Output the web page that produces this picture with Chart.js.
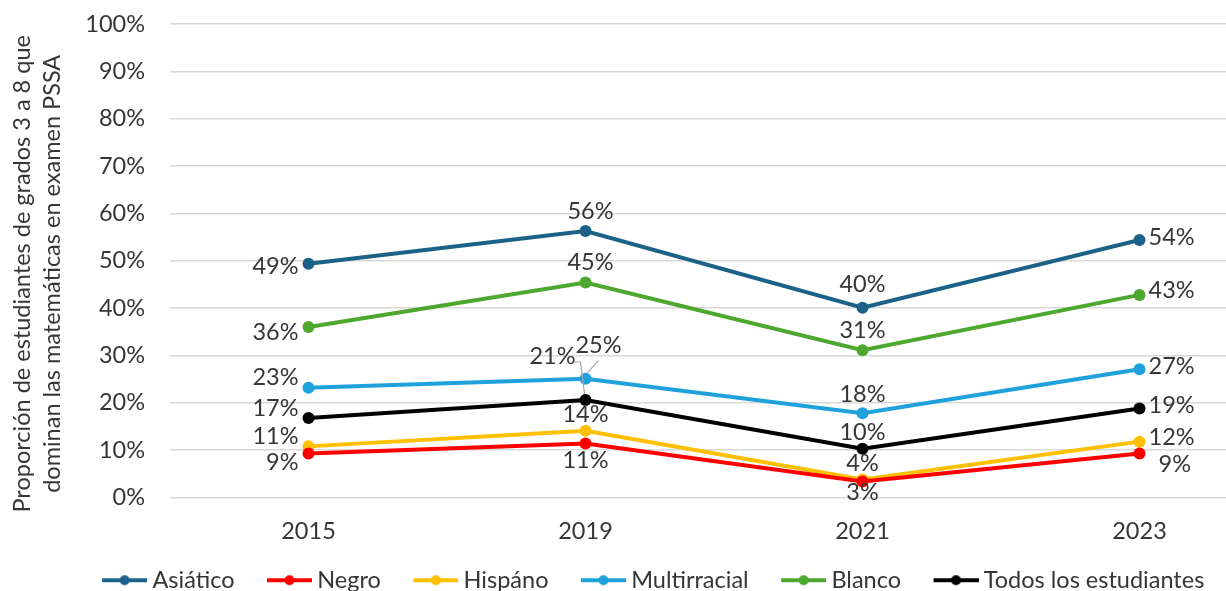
<!DOCTYPE html>
<html>
<head>
<meta charset="utf-8">
<script src="https://cdn.jsdelivr.net/npm/chart.js@4.4.0/dist/chart.umd.min.js"></script>
<style>
  html, body { margin: 0; padding: 0; background: #ffffff; overflow: hidden; width: 1226px; height: 591px; }
  #wrap { width: 1300px; height: 617px; margin-top: -15px; }
  canvas { display: block; }
</style>
</head>
<body>
<div id="wrap"><canvas id="c" width="1300" height="617"></canvas></div>
<script>
// ---- Data ----
const categories = ['2015', '2019', '2021', '2023'];
const seriesNames = ['Asiático', 'Negro', 'Hispáno', 'Multirracial', 'Blanco', 'Todos los estudiantes'];
const asiatico = [49.4, 56.3, 40.1, 54.4];
const negro = [9.3, 11.4, 3.4, 9.3];
const hispano = [10.8, 14.1, 3.8, 11.8];
const multirracial = [23.2, 25.1, 17.8, 27.1];
const blanco = [36.0, 45.4, 31.1, 42.8];
const todos = [16.8, 20.6, 10.3, 18.8];
const yTicks = [0, 10, 20, 30, 40, 50, 60, 70, 80, 90, 100];
const yTitle = ['Proporción de estudiantes de grados 3 a 8 que', 'dominan las matemáticas en examen PSSA'];

// ---- Styles ----
const colors = ['#1c6288', '#ff0000', '#ffc000', '#1fa2dc', '#4ea72e', '#000000'];
const FONT = 'Lato, "Open Sans", sans-serif';
const FS = 23.5;
const TEXT = '#363636';

// label placement per series per point: [mode, dx, dy]
const placement = [
  [['left', 0, 3], ['above', 5, 0], ['above', 0, -3], ['right', 0, -3]],
  [['left', 0, 9], ['below', 0, 0], ['below', 0, -6], ['right', 10, 11]],
  [['left', 0, -10], ['above', 0, 4], ['above', 0, 4], ['right', 0, -4]],
  [['left', 0, -10], ['lead', 13, -33], ['above', 0, 1], ['right', 0, -3]],
  [['left', 0, 5], ['above', 5, 0], ['above', 0, 0], ['right', 0, -4]],
  [['left', 0, -10], ['leadL', -33, -44], ['above', 0, 4], ['right', 0, -3]]
];

const seriesData = [asiatico, negro, hispano, multirracial, blanco, todos];

function legendImage(color) {
  const c = document.createElement('canvas');
  c.width = 80; c.height = 14;
  const g = c.getContext('2d');
  g.strokeStyle = color; g.lineWidth = 4; g.lineCap = 'butt';
  g.beginPath(); g.moveTo(35, 7); g.lineTo(80, 7); g.stroke();
  g.fillStyle = color;
  g.beginPath(); g.arc(57.5, 7, 5, 0, Math.PI * 2); g.fill();
  return c;
}
const legendImgs = colors.map(legendImage);

const labelPlugin = {
  id: 'pointLabels',
  afterDatasetsDraw(chart) {
    const ctx = chart.ctx;
    ctx.save();
    ctx.font = FS + 'px ' + FONT;
    ctx.fillStyle = TEXT;
    ctx.textBaseline = 'middle';
    chart.data.datasets.forEach((ds, di) => {
      const meta = chart.getDatasetMeta(di);
      meta.data.forEach((pt, i) => {
        const txt = Math.round(ds.data[i]) + '%';
        const [mode, dx, dy] = placement[di][i];
        let x = pt.x, y = pt.y;
        if (mode === 'left') { ctx.textAlign = 'right'; x = pt.x - 10 + dx; y = pt.y + dy; }
        else if (mode === 'right') { ctx.textAlign = 'left'; x = pt.x + 9 + dx; y = pt.y + dy; }
        else if (mode === 'above') { ctx.textAlign = 'center'; x = pt.x + dx; y = pt.y - 20 + dy; }
        else if (mode === 'below') { ctx.textAlign = 'center'; x = pt.x + dx; y = pt.y + 17 + dy; }
        else if (mode === 'lead') {
          ctx.textAlign = 'center'; x = pt.x + dx; y = pt.y + dy;
          ctx.strokeStyle = '#a6a6a6'; ctx.lineWidth = 1.2;
          ctx.beginPath(); ctx.moveTo(pt.x + 2, pt.y - 6); ctx.lineTo(x, y + 15); ctx.stroke();
        } else if (mode === 'leadL') {
          ctx.textAlign = 'center'; x = pt.x + dx; y = pt.y + dy;
          ctx.strokeStyle = '#a6a6a6'; ctx.lineWidth = 1.2;
          ctx.beginPath(); ctx.moveTo(x + 22, y + 6); ctx.lineTo(x + 28, y + 6); ctx.lineTo(pt.x - 1, pt.y - 6); ctx.stroke();
        }
        ctx.fillText(txt, x, y);
      });
    });
    ctx.restore();
  }
};

const yTitlePlugin = {
  id: 'yTitle',
  afterDraw(chart) {
    const ctx = chart.ctx;
    const cy = (chart.chartArea.top + chart.chartArea.bottom) / 2 + 13;
    ctx.save();
    ctx.font = FS + 'px ' + FONT;
    ctx.fillStyle = TEXT;
    ctx.textAlign = 'center';
    ctx.textBaseline = 'middle';
    yTitle.forEach((line, i) => {
      ctx.save();
      ctx.translate(22 + i * 30, cy);
      ctx.rotate(-Math.PI / 2);
      ctx.fillText(line, 0, 0);
      ctx.restore();
    });
    ctx.restore();
  }
};

new Chart(document.getElementById('c'), {
  type: 'line',
  data: {
    labels: categories,
    datasets: seriesData.map((d, i) => ({
      label: seriesNames[i],
      data: d,
      borderColor: colors[i],
      backgroundColor: colors[i],
      borderWidth: 4,
      pointRadius: 6,
      pointHoverRadius: 6,
      pointBorderWidth: 0,
      tension: 0,
      fill: false
    }))
  },
  options: {
    responsive: false,
    animation: false,
    layout: { padding: { top: 8, right: 22, left: 0, bottom: 0 } },
    scales: {
      x: {
        offset: true,
        grid: { display: false, drawTicks: false },
        border: { display: false },
        ticks: { color: TEXT, font: { family: FONT, size: FS }, padding: 20 },
        afterFit(s) { s.height = 67; }
      },
      y: {
        min: 0, max: 100,
        afterBuildTicks(s) { s.ticks = yTicks.map(v => ({ value: v })); },
        grid: { color: '#d9d9d9', lineWidth: 1.5, drawTicks: false },
        border: { display: false },
        ticks: { color: TEXT, font: { family: FONT, size: FS }, padding: 25, callback: v => v + '%' },
        afterFit(s) { s.width = 170; }
      }
    },
    plugins: {
      legend: {
        position: 'bottom',
        labels: {
          usePointStyle: true,
          pointStyleWidth: 67,
          padding: 4,
          color: TEXT,
          font: { family: FONT, size: FS },
          generateLabels(chart) {
            const items = Chart.defaults.plugins.legend.labels.generateLabels(chart);
            items.forEach((it, i) => { it.pointStyle = legendImgs[i]; it.fontColor = TEXT; });
            return items;
          }
        }
      },
      tooltip: { enabled: false }
    }
  },
  plugins: [labelPlugin, yTitlePlugin]
});
</script>
</body>
</html>
